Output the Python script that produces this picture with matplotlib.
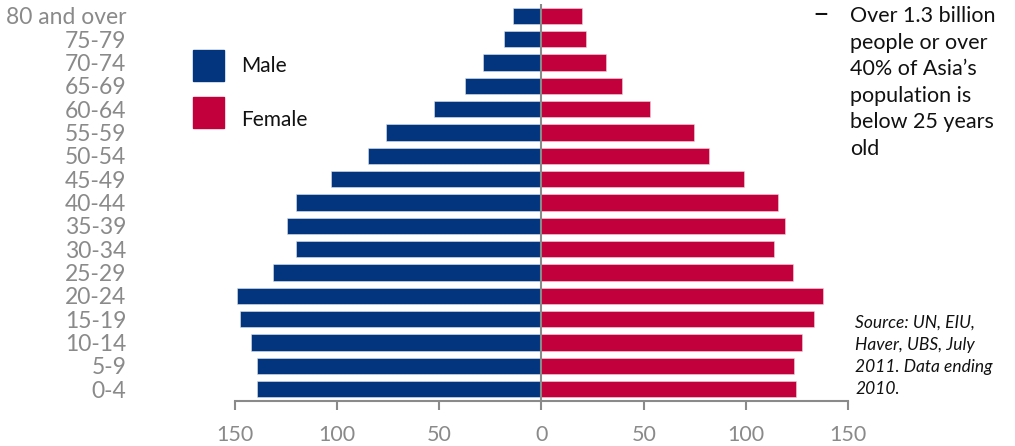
import numpy as np
import matplotlib.pyplot as plt
from matplotlib.patches import Rectangle

plt.rcParams['font.family'] = ['Lato', 'DejaVu Sans']

age_groups = ['0-4', '5-9', '10-14', '15-19', '20-24', '25-29', '30-34', '35-39',
              '40-44', '45-49', '50-54', '55-59', '60-64', '65-69', '70-74',
              '75-79', '80 and over']
male = [139, 139, 142, 147.5, 149, 131, 120, 124.5, 120, 103, 85, 76, 52.5, 37.5, 28.5, 18.5, 14]
female = [124.5, 123.5, 127.5, 133, 137.5, 123, 113.5, 119, 115.5, 99, 82, 74.5, 53, 39.5, 31.5, 22, 20]
xticks = [-150, -100, -50, 0, 50, 100, 150]

blue = '#03357f'
red = '#c2003b'
grey = '#8a8a8a'

W, H = 1015, 446
fig = plt.figure(figsize=(W / 100, H / 100), dpi=100)

def px(x, y):
    return x / W, 1 - y / H

ax = fig.add_axes([234.6 / W, 1 - 401 / H, (848.3 - 234.6) / W, (401 - 4) / H])

y = np.arange(len(age_groups))
ax.barh(y, -np.array(male), height=0.7, color=blue, edgecolor='#dfe3ee', linewidth=0.4)
ax.barh(y, female, height=0.7, color=red, edgecolor='#f0d5dd', linewidth=0.4)
ax.axvline(0, color=grey, linewidth=1.5, zorder=3)

ax.set_xlim(-150, 150)
ax.set_ylim(-0.5, 16.5)
ax.set_xticks(xticks)
ax.set_xticklabels([str(abs(t)) for t in xticks])
ax.set_yticks(y)
ax.set_yticklabels(age_groups)

for s in ['top', 'right', 'left']:
    ax.spines[s].set_visible(False)
ax.spines['bottom'].set_color(grey)
ax.spines['bottom'].set_linewidth(1.5)
ax.tick_params(axis='x', colors=grey, length=6.5, width=1.5, pad=11, labelsize=15.5)
ax.tick_params(axis='y', colors=grey, length=0, pad=78, labelsize=16.5)

# legend
for (x0, y0), c, lab, ty in [((193, 81), blue, 'Male', 66), ((193, 128), red, 'Female', 120)]:
    fx, fy = px(x0, y0)
    fig.patches.append(Rectangle((fx, fy), 31 / W, 31 / H, transform=fig.transFigure,
                                 color=c, figure=fig))
    fig.text(*px(241, ty), lab, fontsize=15, color='#111111', va='center', ha='left')

# annotation
fig.text(*px(812, 15), '\u2013', fontsize=21, color='#111111', va='center', ha='left')
fig.text(*px(850, 6), 'Over 1.3 billion\npeople or over\n40% of Asia\u2019s\npopulation is\nbelow 25 years\nold',
         fontsize=15.5, color='#111111', va='top', ha='left', linespacing=1.41)
fig.text(*px(855, 315), 'Source: UN, EIU,\nHaver, UBS, July\n2011. Data ending\n2010.',
         fontsize=12.5, style='italic', color='#111111', va='top', ha='left', linespacing=1.45)

fig.savefig('out.png', dpi=100)
